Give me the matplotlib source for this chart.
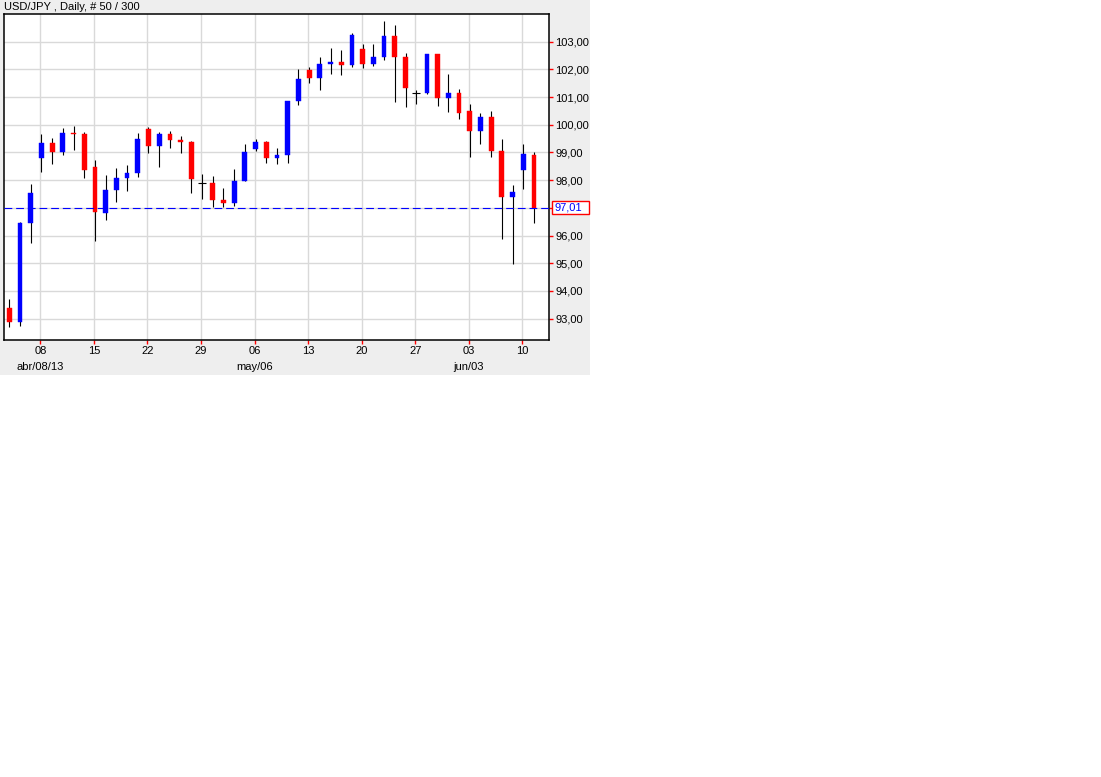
import matplotlib
matplotlib.use("Agg")
import matplotlib.pyplot as plt
import matplotlib.transforms as mtransforms
from matplotlib.patches import Rectangle
import pandas as pd

# --- データ (USD/JPY 日足, 50本) ---
dates = pd.bdate_range("2013-04-03", "2013-06-11")
opens = [93.39, 92.89, 96.47, 98.81, 99.34, 99.03, 99.70, 99.67, 98.48, 96.83,
         97.66, 98.08, 98.27, 99.85, 99.25, 99.67, 99.45, 99.38, 97.90, 97.90,
         97.29, 97.19, 97.97, 99.13, 99.38, 98.81, 98.92, 100.87, 101.98, 101.70,
         102.21, 102.27, 102.17, 102.74, 102.21, 102.45, 103.22, 102.45, 101.14, 101.15,
         102.56, 100.97, 101.15, 100.50, 99.78, 100.28, 99.05, 97.39, 98.37, 98.92]
highs = [93.71, 96.50, 97.86, 99.67, 99.52, 99.88, 99.97, 99.74, 98.73, 98.19,
         98.44, 98.55, 99.69, 99.93, 99.74, 99.78, 99.60, 99.42, 98.22, 98.15,
         97.72, 98.40, 99.31, 99.49, 99.42, 99.16, 100.87, 102.01, 102.09, 102.45,
         102.77, 102.70, 103.31, 102.92, 102.92, 103.75, 103.60, 102.59, 101.27, 102.56,
         102.56, 101.83, 101.29, 100.75, 100.43, 100.50, 99.49, 97.83, 99.31, 99.02]
lows = [92.71, 92.75, 95.72, 98.31, 98.60, 98.92, 99.10, 98.09, 95.82, 96.57,
        97.22, 97.62, 98.13, 98.99, 98.49, 99.17, 98.99, 97.55, 97.33, 97.02,
        97.02, 97.08, 97.97, 99.05, 98.62, 98.60, 98.62, 100.73, 101.52, 101.27,
        101.84, 101.81, 102.10, 102.06, 102.13, 102.34, 100.82, 100.64, 100.75, 101.11,
        100.68, 100.46, 100.21, 98.84, 99.31, 98.84, 95.89, 94.97, 97.68, 96.47]
closes = [92.89, 96.47, 97.54, 99.34, 99.03, 99.70, 99.65, 98.38, 96.86, 97.65,
          98.08, 98.26, 99.49, 99.25, 99.67, 99.46, 99.39, 98.05, 97.90, 97.30,
          97.19, 97.97, 99.02, 99.38, 98.81, 98.92, 100.87, 101.65, 101.70, 102.19,
          102.27, 102.17, 103.24, 102.21, 102.45, 103.22, 102.45, 101.33, 101.14, 102.56,
          100.98, 101.15, 100.43, 99.78, 100.28, 99.05, 97.39, 97.57, 98.96, 97.01]
month_names = ["ene", "feb", "mar", "abr", "may", "jun"]
y_ticks = list(range(93, 104))

W, H = 1101, 777
fig = plt.figure(figsize=(W / 100, H / 100), dpi=100)
fig.patch.set_facecolor("white")
# 灰色のチャート領域
fig.add_artist(Rectangle((0, 1 - 375 / H), 590 / W, 375 / H,
                         transform=fig.transFigure, facecolor="#eeeeee",
                         edgecolor="none", zorder=0))

ax = fig.add_axes([3.5 / W, 1 - 340 / H, (549 - 3.5) / W, (340 - 14) / H])
ax.set_facecolor("white")
ax.set_zorder(1)

idx = list(range(len(dates)))
for i in idx:
    o, h, l, c = opens[i], highs[i], lows[i], closes[i]
    ax.vlines(i + 0.1, l, h, color="black", lw=0.8, zorder=3)
    if o == c:
        ax.hlines(o, i - 0.25, i + 0.45, color="black", lw=0.8, zorder=4)
    else:
        col = "#0000ff" if c > o else "#ff0000"
        ax.bar(i + 0.1, abs(c - o), bottom=min(o, c), width=0.45, color=col,
               edgecolor=col, lw=0.3, zorder=4)

# 最終値の破線
last = closes[-1]
ax.axhline(last, color="#0000ff", lw=0.8, dashes=(7, 3.5), zorder=5)

ax.set_xlim(-0.44, 50.5)
ax.set_ylim(92.23, 104.0)

# 軸目盛
mondays = [i for i in idx if dates[i].weekday() == 0]
ax.set_xticks(mondays)
ax.set_xticklabels([dates[i].strftime("%d") for i in mondays])
ax.set_yticks(y_ticks)
ax.set_yticklabels([f"{v:.2f}".replace(".", ",") for v in y_ticks])
ax.yaxis.tick_right()
ax.tick_params(axis="both", colors="#ff0000", labelcolor="black", length=3,
               width=1, labelsize=8, pad=1.5)
for lab in ax.get_xticklabels() + ax.get_yticklabels():
    lab.set_family("Liberation Sans")
ax.grid(True, color="#d9d9d9", lw=1.0, zorder=0)
ax.set_axisbelow(True)
for s in ax.spines.values():
    s.set_color("black")
    s.set_linewidth(1.1)

# 月ラベル
trans = mtransforms.blended_transform_factory(ax.transData, ax.transAxes)
seen = set()
for i in mondays:
    m = dates[i].month
    if m in seen:
        continue
    seen.add(m)
    txt = f"{month_names[m - 1]}/{dates[i].strftime('%d')}"
    if not len(seen) - 1:
        txt += dates[i].strftime("/%y")
    ax.text(i, -27 / 326, txt, transform=trans, ha="center", va="center",
            fontsize=8, family="Liberation Sans")

# 最終値ラベル
ytrans = mtransforms.blended_transform_factory(ax.transAxes, ax.transData)
ax.add_patch(Rectangle((1.0055, last - 0.235), 0.0685, 0.47, transform=ytrans,
                       facecolor="white", edgecolor="#ff0000", lw=1.0,
                       clip_on=False, zorder=6))
ax.text(1.010, last, f"{last:.2f}".replace(".", ","), transform=ytrans,
        ha="left", va="center", color="#0000ff", fontsize=8,
        family="Liberation Sans", zorder=7)

fig.text(4 / W, 1 - 7.5 / H, "USD/JPY , Daily, # 50 / 300", ha="left",
         va="center", fontsize=8, family="Liberation Sans")

fig.savefig("out.png", dpi=100)
